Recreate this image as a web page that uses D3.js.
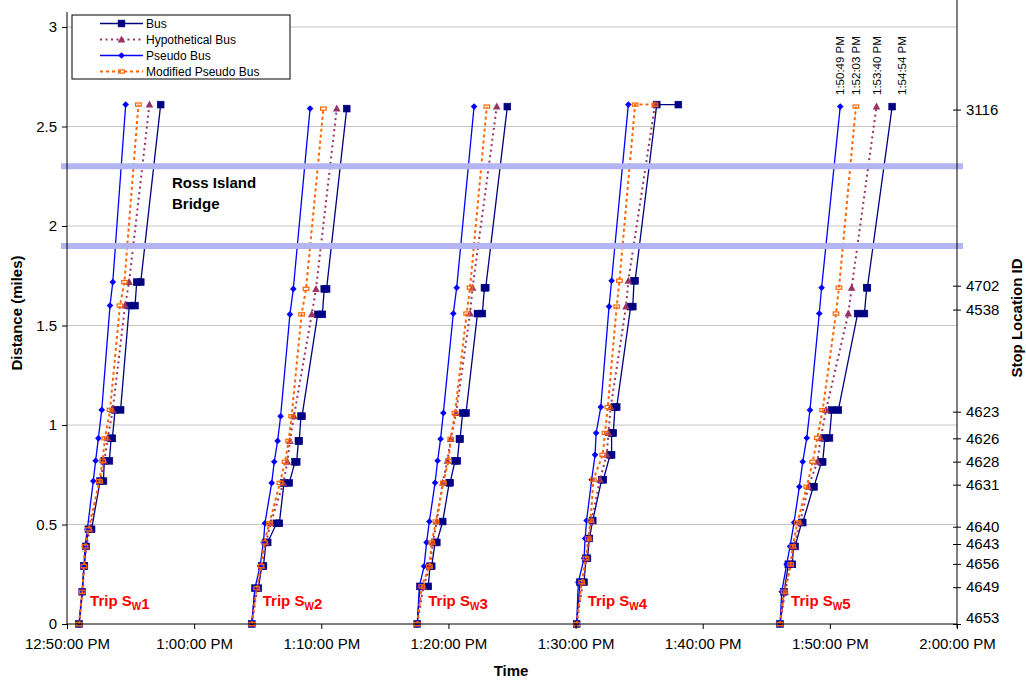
<!DOCTYPE html>
<html>
<head>
<meta charset="utf-8">
<script src="https://cdn.jsdelivr.net/npm/d3@7"></script>
<style>
  body { margin: 0; background: #fff; }
  svg text { font-family: "Liberation Sans", Arial, sans-serif; }
</style>
</head>
<body>
<svg id="chart" width="1026" height="681"></svg>
<script>
// ---- data -------------------------------------------------------------
const seriesNames = ["Bus", "Hypothetical Bus", "Pseudo Bus", "Modified Pseudo Bus"];
const tripNumbers = ["1", "2", "3", "4", "5"];
const timeDomain = ["12:50:00", "2:00:00"];
const distanceTicks = [0, 0.5, 1, 1.5, 2, 2.5, 3];
const stopIds = ["4653", "4649", "4656", "4643", "4640", "4631", "4628", "4626", "4623", "4538", "4702", "3116"];
const stopTickMiles = [0, 0.185, 0.302, 0.402, 0.489, 0.70, 0.816, 0.933, 1.067, 1.58, 1.70, 2.585];
const bridgeEdgeMiles = [1.90, 2.30];

// distance (miles) of each stop as recorded on each trip
const tripStopMiles = [
  [0, 0.162, 0.291, 0.39, 0.476, 0.718, 0.82, 0.933, 1.076, 1.6, 1.718, 2.61],
  [0, 0.18, 0.291, 0.41, 0.506, 0.709, 0.815, 0.92, 1.044, 1.556, 1.684, 2.59],
  [0, 0.189, 0.29, 0.41, 0.515, 0.71, 0.82, 0.93, 1.06, 1.56, 1.69, 2.6],
  [0, 0.21, 0.33, 0.43, 0.52, 0.725, 0.85, 0.96, 1.09, 1.595, 1.725, 2.61],
  [0, 0.162, 0.30, 0.39, 0.51, 0.69, 0.815, 0.935, 1.075, 1.56, 1.69, 2.6]
];

// clock time (PM) at each stop; a pair is [arrival, departure] for a dwell
const busTimes = [
  ["12:50:57", "12:51:12", ["12:51:20", "12:51:22"], "12:51:30", ["12:51:41", "12:51:56"], ["12:52:36", "12:52:52"], ["12:52:56", "12:53:20"], ["12:53:28", "12:53:34"], ["12:53:47", "12:54:13"], ["12:54:54", "12:55:21"], ["12:55:29", "12:55:48"], "12:57:22"],
  ["1:04:32", ["1:04:47", "1:05:03"], ["1:05:19", "1:05:27"], ["1:05:39", "1:05:47"], ["1:06:29", "1:06:42"], ["1:07:04", "1:07:29"], ["1:07:56", "1:08:04"], ["1:08:12", "1:08:16"], ["1:08:24", "1:08:29"], ["1:09:43", "1:10:05"], ["1:10:14", "1:10:25"], "1:12:00"],
  ["1:17:33", ["1:17:46", "1:18:25"], ["1:18:33", "1:18:41"], ["1:18:57", "1:19:05"], "1:19:33", ["1:20:04", "1:20:08"], ["1:20:31", "1:20:42"], ["1:20:52", "1:20:55"], ["1:21:07", "1:21:23"], ["1:22:17", "1:22:40"], ["1:22:50", "1:22:56"], "1:24:38"],
  ["1:30:05", ["1:30:21", "1:30:40"], ["1:30:49", "1:30:56"], "1:31:05", "1:31:21", ["1:32:03", "1:32:11"], ["1:32:43", "1:32:50"], ["1:32:50", "1:32:58"], ["1:33:06", "1:33:14"], ["1:34:20", "1:34:30"], ["1:34:36", "1:34:41"], ["1:36:23", "1:38:05"]],
  ["1:46:05", "1:46:24", ["1:46:44", "1:47:03"], ["1:47:08", "1:47:16"], ["1:47:47", "1:47:52"], ["1:48:42", "1:48:45"], ["1:49:21", "1:49:26"], ["1:49:37", "1:49:58"], ["1:50:09", "1:50:40"], ["1:52:11", "1:52:43"], ["1:52:54", "1:52:57"], "1:54:54"]
];
const hypotheticalTimes = [
  ["12:50:57", "12:51:12", "12:51:22", "12:51:30", "12:51:49", "12:52:36", "12:52:56", "12:53:12", "12:53:36", "12:54:34", "12:54:53", "12:56:29"],
  ["1:04:32", "1:04:58", "1:05:19", "1:05:39", "1:06:01", "1:07:01", "1:07:20", "1:07:32", "1:07:51", "1:09:15", "1:09:35", "1:11:13"],
  ["1:17:33", "1:18:02", "1:18:33", "1:18:46", "1:19:05", "1:19:33", "1:19:55", "1:20:11", "1:20:36", "1:21:42", "1:21:54", "1:23:48"],
  ["1:30:05", "1:30:34", "1:30:52", "1:31:05", "1:31:16", "1:31:55", "1:32:27", "1:32:35", "1:32:46", "1:33:58", "1:34:09", "1:36:15"],
  ["1:46:05", "1:46:29", "1:46:55", "1:47:11", "1:47:39", "1:48:19", "1:49:01", "1:49:17", "1:49:42", "1:51:27", "1:51:43", "1:53:40"]
];
const pseudoTimes = [
  ["12:50:57", "12:51:12", "12:51:20", "12:51:25", "12:51:36", "12:52:04", "12:52:15", "12:52:28", "12:52:44", "12:53:23", "12:53:36", "12:54:37"],
  ["1:04:32", "1:04:47", "1:05:11", "1:05:27", "1:05:34", "1:06:06", "1:06:18", "1:06:34", "1:06:48", "1:07:32", "1:07:48", "1:09:07"],
  ["1:17:33", "1:17:43", "1:18:05", "1:18:17", "1:18:30", "1:18:57", "1:19:09", "1:19:23", "1:19:36", "1:20:23", "1:20:39", "1:22:01"],
  ["1:30:05", "1:30:13", "1:30:40", "1:30:45", "1:30:52", "1:31:16", "1:31:32", "1:31:37", "1:31:59", "1:32:38", "1:32:50", "1:34:09"],
  ["1:46:05", "1:46:13", "1:46:36", "1:46:52", "1:47:11", "1:47:36", "1:47:52", "1:48:11", "1:48:26", "1:49:10", "1:49:21", "1:50:49"]
];
const modifiedPseudoTimes = [
  ["12:50:57", "12:51:12", "12:51:20", "12:51:25", "12:51:41", "12:52:33", "12:52:48", "12:52:59", "12:53:23", "12:54:10", "12:54:31", "12:55:37"],
  ["1:04:32", "1:04:55", "1:05:16", "1:05:31", "1:05:55", "1:06:45", "1:07:09", "1:07:26", "1:07:40", "1:08:27", "1:08:48", "1:10:10"],
  ["1:17:33", "1:17:54", "1:18:30", "1:18:41", "1:19:01", "1:19:36", "1:20:00", "1:20:11", "1:20:31", "1:21:26", "1:21:42", "1:23:01"],
  ["1:30:05", "1:30:29", "1:30:49", "1:31:00", "1:31:11", "1:31:24", "1:32:08", "1:32:19", "1:32:32", "1:33:14", "1:33:27", ["1:34:41", "1:36:15"]],
  ["1:46:05", "1:46:24", "1:46:55", "1:47:05", "1:47:27", "1:48:11", "1:48:39", "1:49:01", "1:49:26", "1:50:29", "1:50:43", "1:52:03"]
];

// ---- drawing ----------------------------------------------------------
const svg = d3.select("#chart");
const plot = { left: 67, right: 957, top: 27, bottom: 624 };
const parseClock = s => d3.timeParse("%I:%M:%S %p")(s + " PM");
const fmtClock = d3.timeFormat("%-I:%M:%S %p");

const x = d3.scaleTime()
  .domain(timeDomain.map(parseClock))
  .range([plot.left, plot.right]);
const y = d3.scaleLinear().domain([0, 3]).range([plot.bottom, plot.top]);

svg.append("rect").attr("width", 1026).attr("height", 681).attr("fill", "#fff");

// horizontal gridlines
svg.append("g").selectAll("line")
  .data(distanceTicks.filter(d => d > 0))
  .join("line")
  .attr("x1", plot.left).attr("x2", plot.right)
  .attr("y1", d => y(d)).attr("y2", d => y(d))
  .attr("stroke", "#c4c4c4").attr("stroke-width", 1);

// series appearance
const styles = [
  { times: busTimes, color: "#000080", width: 1.3, dash: null, marker: "square" },
  { times: hypotheticalTimes, color: "#993366", width: 2, dash: "2,3.5", marker: "triangle" },
  { times: pseudoTimes, color: "#0000ff", width: 1.3, dash: null, marker: "diamond" },
  { times: modifiedPseudoTimes, color: "#ff6600", width: 2, dash: "3,3", marker: "dash" }
];

function tripPoints(times, t) {
  const pts = [];
  times[t].forEach((entry, i) => {
    const list = Array.isArray(entry) ? entry : [entry];
    list.forEach(s => pts.push({ t: parseClock(s), m: tripStopMiles[t][i] }));
  });
  return pts;
}

function addMarker(g, kind, color, cx, cy) {
  if (kind === "square") {
    g.append("rect").attr("x", cx - 3.4).attr("y", cy - 3.4).attr("width", 6.8).attr("height", 6.8)
      .attr("fill", color).attr("stroke", color).attr("stroke-width", 0.6);
  } else if (kind === "triangle") {
    g.append("path").attr("d", "M0,-4 L3.8,3 L-3.8,3 Z")
      .attr("transform", `translate(${cx},${cy})`).attr("fill", color);
  } else if (kind === "diamond") {
    g.append("path").attr("d", "M0,-3.3 L3.3,0 L0,3.3 L-3.3,0 Z")
      .attr("transform", `translate(${cx},${cy})`).attr("fill", color);
  } else {
    g.append("rect").attr("x", cx - 2.8).attr("y", cy - 1.6).attr("width", 5.6).attr("height", 3.2)
      .attr("fill", "none").attr("stroke", color).attr("stroke-width", 1.2);
  }
}

const line = d3.line().x(d => x(d.t)).y(d => y(d.m));
const lastPoints = [];
styles.forEach((st, si) => {
  const g = svg.append("g");
  tripNumbers.forEach((_, t) => {
    const pts = tripPoints(st.times, t);
    g.append("path").attr("d", line(pts)).attr("fill", "none")
      .attr("stroke", st.color).attr("stroke-width", st.width)
      .attr("stroke-dasharray", st.dash);
    pts.forEach(p => addMarker(g, st.marker, st.color, x(p.t), y(p.m)));
    if (t === tripNumbers.length - 1) lastPoints[si] = pts[pts.length - 1];
  });
});

// Ross Island Bridge edges
svg.append("g").selectAll("line")
  .data(bridgeEdgeMiles)
  .join("line")
  .attr("x1", 61).attr("x2", 963)
  .attr("y1", d => y(d)).attr("y2", d => y(d))
  .attr("stroke", "#b3b5f2").attr("stroke-width", 6);

svg.append("text").attr("x", 172).attr("y", 188)
  .attr("font-size", 15).attr("font-weight", "bold").text("Ross Island");
svg.append("text").attr("x", 172).attr("y", 209)
  .attr("font-size", 15).attr("font-weight", "bold").text("Bridge");

// trip labels
tripNumbers.forEach((n, t) => {
  const start = parseClock(pseudoTimes[t][0]);
  const tx = svg.append("text").attr("x", x(start) + 11).attr("y", 606)
    .attr("fill", "#ff0000").attr("font-size", 15).attr("font-weight", "bold");
  tx.append("tspan").text("Trip S");
  tx.append("tspan").attr("font-size", 10).attr("dy", 4).text("W");
  tx.append("tspan").attr("dy", -1).text(n);
});

// arrival clock labels for the last trip
lastPoints.forEach((p, si) => {
  const lx = x(p.t) + (si === 0 ? 10 : 0);
  svg.append("text")
    .attr("transform", `translate(${lx},95) rotate(-90)`)
    .attr("dy", "0.35em").attr("font-size", 11.5).text(fmtClock(p.t));
});

// axes
const axisLeft = svg.append("g").attr("transform", `translate(${plot.left},0)`)
  .call(d3.axisLeft(y).tickValues(distanceTicks).tickFormat(d3.format("~g"))
    .tickSize(5).tickPadding(5));
axisLeft.select(".domain").remove();
axisLeft.selectAll("text").attr("font-size", 15).attr("font-family", null);
svg.append("line").attr("x1", plot.left).attr("x2", plot.left).attr("y1", 12).attr("y2", plot.bottom)
  .attr("stroke", "#000");

const axisBottom = svg.append("g").attr("transform", `translate(0,${plot.bottom})`)
  .call(d3.axisBottom(x).ticks(d3.timeMinute.every(10)).tickFormat(fmtClock)
    .tickSize(5).tickPadding(9));
axisBottom.select(".domain").remove();
axisBottom.selectAll("text").attr("font-size", 15).attr("font-family", null);
svg.append("line").attr("x1", plot.left).attr("x2", plot.right).attr("y1", plot.bottom).attr("y2", plot.bottom)
  .attr("stroke", "#000");

const axisRight = svg.append("g").attr("transform", `translate(${plot.right},0)`)
  .call(d3.axisRight(y).tickValues(stopTickMiles).tickFormat((d, i) => stopIds[i])
    .tickSize(4).tickPadding(5));
axisRight.select(".domain").remove();
axisRight.selectAll(".tick line").attr("x1", -4).attr("x2", 4);
axisRight.selectAll("text").attr("font-size", 15).attr("font-family", null)
  .attr("y", d => (d === 0 ? -6 : 0));
svg.append("line").attr("x1", plot.right).attr("x2", plot.right).attr("y1", 0).attr("y2", 628)
  .attr("stroke", "#000");

// axis titles
svg.append("text").attr("transform", "translate(17,313) rotate(-90)")
  .attr("text-anchor", "middle").attr("dy", "0.35em")
  .attr("font-size", 15).attr("font-weight", "bold").text("Distance (miles)");
svg.append("text").attr("x", 511).attr("y", 676)
  .attr("text-anchor", "middle").attr("font-size", 15).attr("font-weight", "bold").text("Time");
svg.append("text").attr("transform", "translate(1017,318) rotate(-90)")
  .attr("text-anchor", "middle").attr("dy", "0.35em")
  .attr("font-size", 15).attr("font-weight", "bold").text("Stop Location ID");

// legend
const legend = svg.append("g");
legend.append("rect").attr("x", 72).attr("y", 15).attr("width", 218).attr("height", 64)
  .attr("fill", "#fff").attr("stroke", "#000").attr("stroke-width", 1);
styles.forEach((st, i) => {
  const ly = 23.5 + i * 16;
  legend.append("line").attr("x1", 100).attr("x2", 143).attr("y1", ly).attr("y2", ly)
    .attr("stroke", st.color).attr("stroke-width", st.width).attr("stroke-dasharray", st.dash);
  addMarker(legend, st.marker, st.color, 121.5, ly);
  legend.append("text").attr("x", 146).attr("y", ly).attr("dy", "0.35em")
    .attr("font-size", 12).text(seriesNames[i]);
});
</script>
</body>
</html>
